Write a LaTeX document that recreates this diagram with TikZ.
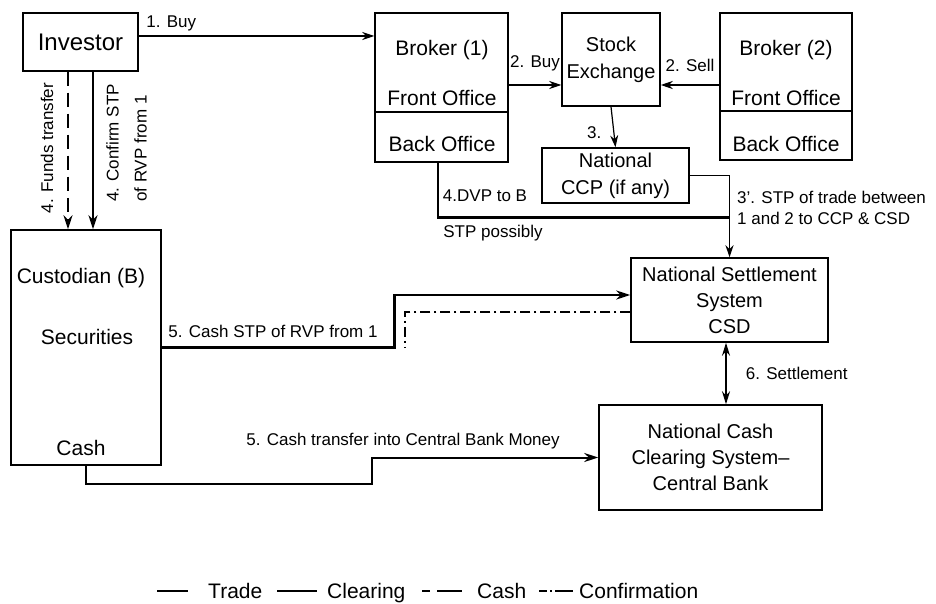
\documentclass[tikz,border=0pt]{standalone}
\usepackage{fontspec}
\setmainfont{Liberation Sans}
\usetikzlibrary{arrows.meta,positioning}

\begin{document}
\begin{tikzpicture}[x=1pt,y=-1pt,
  box/.style={draw,line width=1.5pt,inner sep=0pt,align=center,font=\fontsize{20}{27}\selectfont},
  txt/.style={inner sep=0pt,font=\fontsize{21}{25}\selectfont},
  lbl/.style={inner sep=0pt,font=\fontsize{17}{21}\selectfont},
  trade/.style={line width=1.2pt,-{Stealth[length=12pt,width=8pt]}},
  clearing/.style={line width=2.6pt,-{Stealth[length=14pt,width=9pt]}},
  cash/.style={line width=2pt,dash pattern=on 14pt off 7pt,-{Stealth[length=14pt,width=9pt]}},
  confirm/.style={line width=2pt,dash pattern=on 10pt off 4pt on 2pt off 4pt}]
  \useasboundingbox (0,0) rectangle (936,604);

  \node[box,minimum width=115pt,minimum height=58pt,font=\fontsize{24}{28}\selectfont] (inv) at (80.5,42) {Investor};
  \node[box,minimum width=150pt,minimum height=235pt] (cust) at (86,347.5) {};
  \node[txt] (cust_t) at (81,278) {Custodian (B)};
  \node[txt] (cust_s) at (87,337) {Securities};
  \node[txt] (cust_c) at (81,448) {Cash};

  \node[box,minimum width=133pt,minimum height=99pt] (brk_1f) at (441.5,62.5) {};
  \node[box,minimum width=133pt,minimum height=50pt] (brk_1b) at (441.5,137) {};
  \node[txt] (brk_1n) at (442,50) {Broker (1)};
  \node[txt] (brk_1fo) at (442,98) {Front Office};
  \node[txt] (brk_1bo) at (442,144) {Back Office};

  \node[box,minimum width=132pt,minimum height=98pt] (brk_2f) at (786,62) {};
  \node[box,minimum width=132pt,minimum height=49pt] (brk_2b) at (786,135.5) {};
  \node[txt] (brk_2n) at (786,50) {Broker (2)};
  \node[txt] (brk_2fo) at (786,98) {Front Office};
  \node[txt] (brk_2bo) at (786,144) {Back Office};

  \node[box,minimum width=98pt,minimum height=93pt] (sx) at (611,59.5) {Stock\\Exchange};
  \node[box,minimum width=147pt,minimum height=55pt] (ccp) at (615.5,175.5) {National\\CCP (if any)};
  \node[box,minimum width=197pt,minimum height=84pt,font=\fontsize{20}{26}\selectfont] (nss) at (729.5,300) {National Settlement\\System\\CSD};
  \node[box,minimum width=223pt,minimum height=105pt,font=\fontsize{20}{26}\selectfont] (nccs) at (710.5,457.5) {National Cash\\Clearing System--\\Central Bank};

  \coordinate (buy_1) at ([yshift=6pt]inv.east);
  \draw[trade] (buy_1) -- node[lbl,pos=0,anchor=south west,xshift=7pt,yshift=4pt] (buy_1l) {1. Buy} (buy_1 -| brk_1f.west);

  \coordinate (buy_2) at ([yshift=-22.5pt]brk_1f.east);
  \draw[trade] (buy_2) -- node[lbl,above=13pt] (buy_2l) {2. Buy} (buy_2 -| sx.west);
  \coordinate (sell_2) at ([yshift=-23pt]brk_2f.west);
  \draw[trade] (sell_2) -- node[lbl,above=13pt] (sell_2l) {2. Sell} (sell_2 -| sx.east);
  \draw[trade] (sx.south) -- node[lbl,left=12pt,pos=0.65] (step_3) {3.} (ccp.north);

  \draw[trade] (ccp.east) -| (nss.north);
  \node[lbl,align=left,anchor=west] (step_3p) at (737,207.5) {3'. STP of trade between\\1 and 2 to CCP \& CSD};

  \coordinate (dvp_s) at ([xshift=-3.5pt]brk_1b.south);
  \coordinate (dvp_j) at ([yshift=40pt]nss.north);
  \draw[clearing,-] (dvp_s) |- (dvp_j);
  \node[lbl] (dvp_l) at (485,196) {4.DVP to B};
  \node[lbl] (dvp_p) at (493,233) {STP possibly};

  \coordinate (fund_s) at ([xshift=-12.5pt]inv.south);
  \draw[cash] (fund_s) -- (fund_s |- cust.north);
  \node[lbl,rotate=90] (fund_l) at (47,148) {4. Funds transfer};
  \coordinate (conf_s) at ([xshift=12.5pt]inv.south);
  \draw[clearing] (conf_s) -- (conf_s |- cust.north);
  \node[lbl,rotate=90,align=left,font=\fontsize{17}{28}\selectfont] (conf_l) at (126.5,143) {4. Confirm STP\\of RVP from 1};

  \draw[clearing] (cust.east) -- ++(233,0) |- ([yshift=5pt]nss.west);
  \node[lbl] (stp_5) at (273,331) {5. Cash STP of RVP from 1};
  \coordinate (conf_e) at (405,347);
  \draw[confirm] ([yshift=-12pt]nss.west) -| (conf_e);

  \coordinate (cash_s) at (372,484);
  \draw[clearing,line width=2pt] (cust.south) |- (cash_s) |- (nccs.west);
  \node[lbl] (cash_5) at (403,441) {5. Cash transfer into Central Bank Money};

  \coordinate (set_s) at ([xshift=-3.5pt]nss.south);
  \draw[line width=1.6pt,{Stealth[length=13pt,width=8pt]}-{Stealth[length=13pt,width=8pt]}] (set_s) -- node[lbl,right=19pt] (set_6) {6. Settlement} (set_s |- nccs.north);

  \node[txt,anchor=base west] (lg_tr) at (208,598) {Trade};
  \node[txt,anchor=base west] (lg_cl) at (327,598) {Clearing};
  \node[txt,anchor=base west] (lg_ca) at (477,598) {Cash};
  \node[txt,anchor=base west] (lg_co) at (579,598) {Confirmation};
  \draw[line width=1.2pt] (157,591) -- (188,591);
  \draw[line width=2.6pt] (277,591) -- (317,591);
  \draw[line width=1.5pt,dash pattern=on 8pt off 7pt on 25pt] (422,591) -- (462,591);
  \draw[line width=1.5pt,dash pattern=on 8pt off 3pt on 2pt off 3pt on 18pt] (539,591) -- (575,591);
\end{tikzpicture}
\end{document}
